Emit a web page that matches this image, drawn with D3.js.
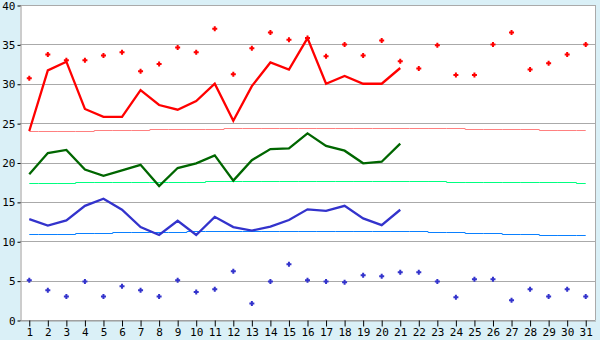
<!DOCTYPE html>
<html>
<head>
<meta charset="utf-8">
<script src="https://cdn.jsdelivr.net/npm/d3@7"></script>
<style>
  html, body { margin: 0; padding: 0; background: #daf0f7; }
  svg { display: block; }
  text { font-family: "DejaVu Sans Mono", monospace; font-size: 11px; fill: #000; }
</style>
</head>
<body>
<svg id="chart" width="600" height="340"></svg>
<script>
const days = d3.range(1, 32);
const yTicks = [0, 5, 10, 15, 20, 25, 30, 35, 40];

// Daily max temperature (line, days 1-21)
const maxLine = [24.0, 31.7, 32.8, 26.8, 25.8, 25.8, 29.2, 27.3, 26.7, 27.8, 30.0,
                 25.3, 29.7, 32.7, 31.8, 35.8, 30.0, 31.0, 30.0, 30.0, 32.0];
// Daily mean temperature (line, days 1-21)
const meanLine = [18.5, 21.2, 21.6, 19.1, 18.3, 19.0, 19.7, 17.0, 19.3, 19.9, 20.9,
                  17.7, 20.3, 21.7, 21.8, 23.7, 22.1, 21.5, 19.9, 20.1, 22.4];
// Daily min temperature (line, days 1-21)
const minLine = [12.8, 12.0, 12.65, 14.5, 15.4, 14.0, 11.8, 10.8, 12.6, 10.8, 13.1,
                 11.8, 11.35, 11.85, 12.7, 14.05, 13.85, 14.5, 12.9, 12.05, 14.0];

// Record high markers (days 1-31)
const highPts = [30.7, 33.7, 33.0, 33.0, 33.6, 34.0, 31.6, 32.5, 34.6, 34.0, 37.0,
                 31.2, 34.5, 36.5, 35.6, 35.8, 33.5, 35.0, 33.6, 35.5, 32.85,
                 31.95, 34.9, 31.1, 31.1, 35.0, 36.5, 31.8, 32.6, 33.7, 35.0];
// Record low markers (days 1-31)
const lowPts = [5.04, 3.77, 3.0, 4.9, 3.0, 4.28, 3.77, 3.0, 5.04, 3.55, 3.9,
                6.2, 2.1, 4.9, 7.07, 5.04, 4.9, 4.78, 5.67, 5.55, 6.06,
                6.06, 4.9, 2.88, 5.17, 5.17, 2.5, 3.9, 3.0, 3.9, 3.0];

// Normal (average) max / mean / min (days 1-31)
const normMax = [24.0, 24.0, 24.0, 24.0, 24.12, 24.12, 24.12, 24.25, 24.25, 24.25, 24.25,
                 24.38, 24.38, 24.38, 24.38, 24.38, 24.38, 24.38, 24.38, 24.38, 24.38,
                 24.38, 24.38, 24.38, 24.25, 24.25, 24.25, 24.25, 24.12, 24.12, 24.12];
const normMean = [17.4, 17.4, 17.4, 17.52, 17.52, 17.52, 17.52, 17.52, 17.52, 17.52, 17.65,
                  17.65, 17.65, 17.65, 17.65, 17.65, 17.65, 17.65, 17.65, 17.65, 17.65,
                  17.65, 17.65, 17.52, 17.52, 17.52, 17.52, 17.52, 17.52, 17.52, 17.4];
const normMin = [10.92, 10.92, 10.92, 11.05, 11.05, 11.17, 11.17, 11.17, 11.17, 11.3, 11.3,
                 11.3, 11.3, 11.3, 11.3, 11.3, 11.3, 11.3, 11.3, 11.3, 11.3,
                 11.3, 11.17, 11.17, 11.05, 11.05, 10.92, 10.92, 10.8, 10.8, 10.8];

const L = 20, R = 595, T = 5, B = 320;
const svg = d3.select("#chart");

const x = d3.scaleBand().domain(days).range([L, R]).padding(0);
const cx = d => x(d) + x.bandwidth() / 2;
const y = d3.scaleLinear().domain([0, 40]).range([B, T]);

// plot background
svg.append("rect").attr("x", L).attr("y", T).attr("width", R - L).attr("height", B - T)
  .attr("fill", "#ffffff");

// gridlines
svg.append("g").attr("class", "grid")
  .selectAll("line").data(yTicks).join("line")
  .attr("x1", L).attr("x2", R)
  .attr("y1", d => Math.round(y(d)) + 0.5).attr("y2", d => Math.round(y(d)) + 0.5)
  .attr("stroke", "#aaaaaa").attr("stroke-width", 1);
// right border
svg.append("line").attr("x1", R + 0.5).attr("x2", R + 0.5).attr("y1", T).attr("y2", B)
  .attr("stroke", "#aaaaaa");

// axes
const yAxis = svg.append("g").attr("transform", `translate(${L + 0.5},0.5)`)
  .call(d3.axisLeft(y).tickValues(yTicks).tickSize(3).tickPadding(2).tickSizeOuter(0));
const xAxis = svg.append("g").attr("transform", `translate(0.5,${B + 0.5})`)
  .call(d3.axisBottom(x).tickSize(6).tickPadding(2).tickSizeOuter(0));
[yAxis, xAxis].forEach(a => {
  a.select(".domain").attr("stroke", "#999999");
  a.selectAll(".tick line").attr("stroke", "#000000");
  a.selectAll("text").style("font-family", "'DejaVu Sans Mono', monospace").style("font-size", "11px").attr("fill", "#000");
});

// normal step lines
const stepLine = d3.line().x((d, i) => cx(days[i])).y(d => Math.round(y(d)) + 0.5).curve(d3.curveStep);
[[normMax, "#ff8080"], [normMean, "#00ff80"], [normMin, "#0a80ff"]].forEach(([arr, col]) => {
  svg.append("path").datum(arr).attr("d", stepLine)
    .attr("fill", "none").attr("stroke", col).attr("stroke-width", 1);
});

// main lines
const line = d3.line().x((d, i) => cx(days[i])).y(d => y(d));
[[maxLine, "#ff0000"], [meanLine, "#006600"], [minLine, "#3333cc"]].forEach(([arr, col]) => {
  svg.append("path").datum(arr).attr("d", line)
    .attr("fill", "none").attr("stroke", col).attr("stroke-width", 2.3)
    .attr("stroke-linejoin", "miter");
});

// markers
const plus = "M-1,-2.5h2v1.5h1.5v2h-1.5v1.5h-2v-1.5h-1.5v-2h1.5z";
[[highPts, "#ff0000"], [lowPts, "#3333cc"]].forEach(([arr, col]) => {
  svg.append("g").selectAll("path").data(arr).join("path")
    .attr("d", plus)
    .attr("transform", (d, i) => `translate(${cx(days[i])},${y(d)})`)
    .attr("fill", col);
});
</script>
</body>
</html>
